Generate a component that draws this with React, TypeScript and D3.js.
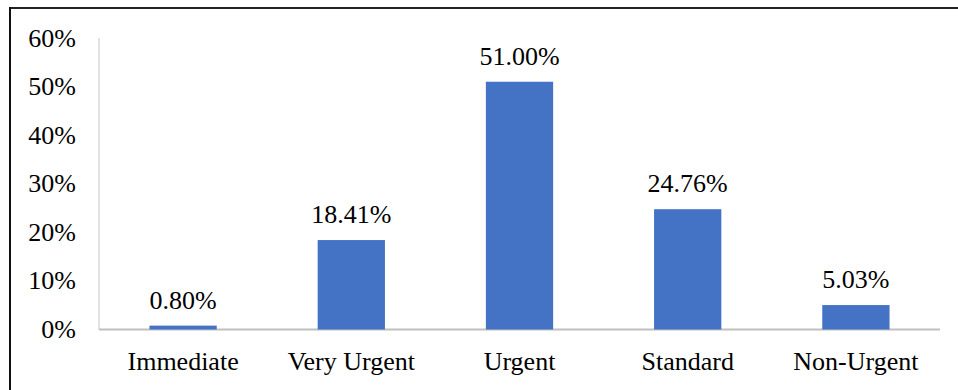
import React from "react";
import * as d3 from "d3";

const categories: string[] = ["Immediate", "Very Urgent", "Urgent", "Standard", "Non-Urgent"];
const values: number[] = [0.8, 18.41, 51.0, 24.76, 5.03];
const yTicks: number[] = [0, 10, 20, 30, 40, 50, 60];

const W = 958;
const H = 390;
const FONT = '"Liberation Serif", Tinos, "Times New Roman", Times, serif';

export default function App() {
  const x = d3.scaleBand<string>().domain(categories).range([99, 940]).paddingInner(0.6).paddingOuter(0.3);
  const y = d3.scaleLinear().domain([0, 60]).range([329.5, 38]);
  const bw = x.bandwidth();
  const txt = { fontFamily: FONT, fontSize: "26px" } as React.CSSProperties;

  return (
    <svg
      width={W}
      height={H}
      style={{ position: "absolute", left: 0, top: 0, background: "#fff" }}
    >
      {/* frame */}
      <line x1={10} y1={8} x2={W} y2={8} stroke="#222" strokeWidth={2} />
      <line x1={10} y1={7} x2={10} y2={H} stroke="#111" strokeWidth={2} />

      {/* axes */}
      <line x1={99} y1={y(60)} x2={99} y2={y(0)} stroke="#d9d9d9" strokeWidth={1.5} />
      <line x1={99} y1={y(0)} x2={940} y2={y(0)} stroke="#bfbfbf" strokeWidth={2} />

      {yTicks.map((t) => (
        <text key={t} x={76} y={y(t) + 8.5} textAnchor="end" style={txt} fill="#000">
          {t}%
        </text>
      ))}

      {categories.map((c, i) => {
        const v = values[i];
        const cx = (x(c) ?? 0) + bw / 2;
        return (
          <g key={c}>
            <rect x={x(c)} y={y(v)} width={bw} height={y(0) - y(v)} fill="#4472C4" />
            <text x={cx} y={y(v) - 17} textAnchor="middle" style={txt} fill="#000">
              {v.toFixed(2)}%
            </text>
            <text x={cx} y={370} textAnchor="middle" style={txt} fill="#000">
              {c}
            </text>
          </g>
        );
      })}
    </svg>
  );
}
